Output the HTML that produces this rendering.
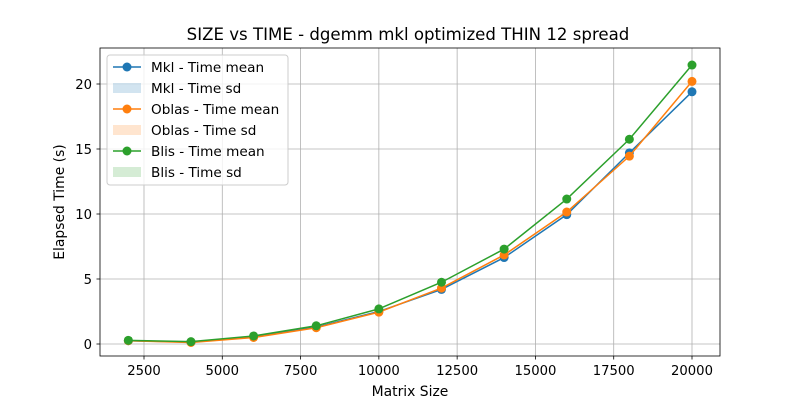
<!DOCTYPE html>
<html><head><meta charset="utf-8"><style>body{margin:0;background:#fff}svg{display:block;font-family:"DejaVu Sans","Liberation Sans",sans-serif}</style></head>
<body>
<svg id="chart" width="800" height="400" viewBox="0 0 800 400" xmlns="http://www.w3.org/2000/svg"></svg>
<script>
const sizes=[2000,4000,6000,8000,10000,12000,14000,16000,18000,20000];
const mklMean=[0.25,0.15,0.55,1.3,2.5,4.2,6.65,9.95,14.7,19.4];
const oblasMean=[0.25,0.12,0.5,1.25,2.45,4.3,6.85,10.15,14.45,20.2];
const blisMean=[0.28,0.18,0.62,1.4,2.7,4.75,7.3,11.15,15.75,21.46];
const xTicks=[2500,5000,7500,10000,12500,15000,17500,20000];
const yTicks=[0,5,10,15,20];
const NS="http://www.w3.org/2000/svg";
const svg=document.getElementById('chart');
const L=100,R=720,T=48,B=356;
const xs=v=>144+(v-2500)*548/17500;
const ys=v=>344-v*13;
function mk(t,a,p){const e=document.createElementNS(NS,t);for(const k in a)e.setAttribute(k,a[k]);(p||svg).appendChild(e);return e;}
const grid=mk('g',{});


xTicks.forEach(v=>{const x=xs(v);
mk('line',{x1:x,x2:x,y1:T,y2:B,stroke:'#b0b0b0','stroke-width':0.8},grid);
mk('line',{x1:x,x2:x,y1:B,y2:B+3.5,stroke:'#000','stroke-width':0.8});
const t=mk('text',{x:x,y:B+19,'text-anchor':'middle','font-size':13.2});t.textContent=v;

});
yTicks.forEach(v=>{const y=ys(v);
mk('line',{x1:L,x2:R,y1:y,y2:y,stroke:'#b0b0b0','stroke-width':0.8},grid);
mk('line',{x1:L-3.5,x2:L,y1:y,y2:y,stroke:'#000','stroke-width':0.8});
const t=mk('text',{x:L-8,y:y+5,'text-anchor':'end','font-size':13.2});t.textContent=v;

});
const series=[[mklMean,'#1f77b4','mkl'],[oblasMean,'#ff7f0e','oblas'],[blisMean,'#2ca02c','blis']];
series.forEach(([d,c,n])=>{const g=mk('g',{});


mk('polyline',{points:d.map((v,i)=>xs(sizes[i])+','+ys(v)).join(' '),fill:'none',stroke:c,'stroke-width':1.5},g);
d.forEach((v,i)=>{const p=mk('circle',{cx:xs(sizes[i]),cy:ys(v),r:4.5,fill:c},g);

});});
const fr=mk('rect',{x:L,y:T,width:R-L,height:B-T,fill:'none',stroke:'#000','stroke-width':0.8});


const title=mk('text',{x:408,y:40,'text-anchor':'middle','font-size':16.6});title.textContent='SIZE vs TIME - dgemm mkl optimized THIN 12 spread';


const xl=mk('text',{x:410,y:396,'text-anchor':'middle','font-size':13.9});xl.textContent='Matrix Size';


const yl=mk('text',{x:64,y:202,'text-anchor':'middle','font-size':13.9,transform:'rotate(-90 64 202)'});yl.textContent='Elapsed Time (s)';


const lg=mk('g',{});


mk('rect',{x:107,y:55,width:181,height:130,rx:3,fill:'#fff','fill-opacity':0.8,stroke:'#ccc'},lg);
const items=[['Mkl - Time mean','#1f77b4',1],['Mkl - Time sd','#1f77b4',0],['Oblas - Time mean','#ff7f0e',1],['Oblas - Time sd','#ff7f0e',0],['Blis - Time mean','#2ca02c',1],['Blis - Time sd','#2ca02c',0]];
items.forEach(([t,c,m],i)=>{const y=67+i*21;const g=mk('g',{},lg);


if(m){mk('line',{x1:113,x2:141,y1:y,y2:y,stroke:c,'stroke-width':1.5},g);mk('circle',{cx:127,cy:y,r:4.5,fill:c},g);}
else mk('rect',{x:113,y:y-5,width:28,height:10,fill:c,'fill-opacity':0.2},g);
const tx=mk('text',{x:151,y:y+5,'font-size':13.6},g);tx.textContent=t;});
</script>
</body></html>
